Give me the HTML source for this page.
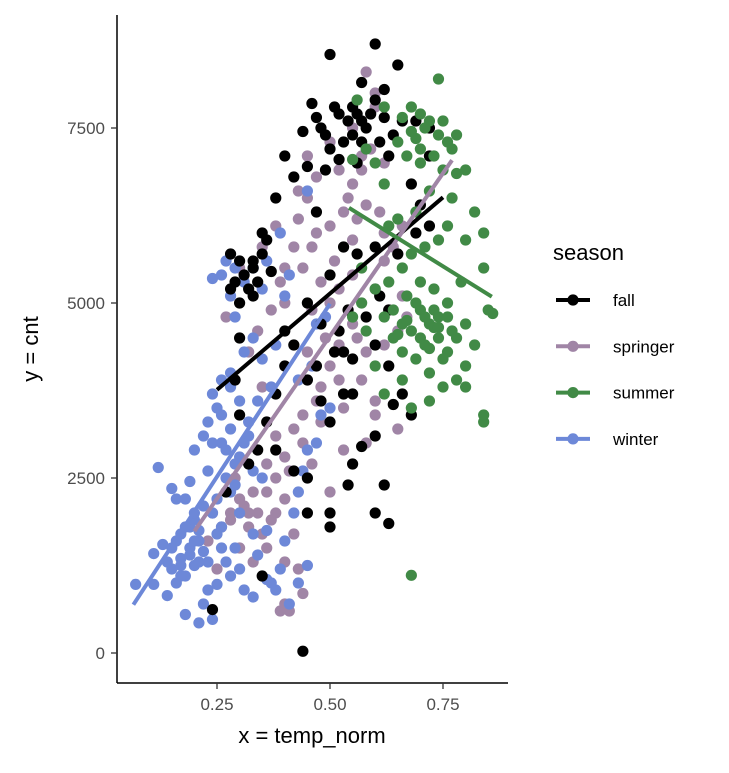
<!DOCTYPE html>
<html><head><meta charset="utf-8"><style>
body{margin:0;background:#fff}
svg text{font-family:"Liberation Sans",sans-serif}
</style></head><body>
<svg id="c" width="729" height="768" xmlns="http://www.w3.org/2000/svg"></svg>
<script>
const seasons=["springer","winter","fall","summer"];
const colors={fall:"#000000",springer:"#a085a6",summer:"#418a46",winter:"#6d88d8"};
const xTicks=[0.25,0.5,0.75];
const yTicks=[0,2500,5000,7500];
const springX=[0.58,0.6,0.55,0.57,0.59,0.62,0.5,0.52,0.47,0.45,0.5,0.53,0.55,0.56,0.58,0.62,0.64,0.66,0.43,0.42,0.44,0.46,0.48,0.4,0.4,0.46,0.5,0.52,0.55,0.6,0.63,0.66,0.56,0.58,0.62,0.65,0.52,0.5,0.48,0.53,0.57,0.6,0.65,0.6,0.58,0.53,0.48,0.46,0.44,0.42,0.4,0.38,0.36,0.34,0.32,0.3,0.28,0.26,0.24,0.23,0.25,0.3,0.33,0.36,0.38,0.4,0.42,0.4,0.43,0.44,0.41,0.39,0.4,0.27,0.3,0.32,0.35,0.38,0.45,0.55,0.5,0.35,0.38,0.6,0.45,0.62,0.67,0.29,0.31,0.33,0.37,0.41,0.47,0.52,0.36,0.34,0.37,0.39,0.43,0.47,0.51,0.54,0.57,0.49,0.44,0.32,0.28,0.35,0.55,0.61];
const springY=[8300,8000,7500,7100,7200,7000,7300,6900,6800,6500,6100,6300,6700,6200,6400,6000,5800,6100,6200,5800,5500,5800,5300,5000,5500,4900,5000,5200,5400,5200,4900,5100,4500,4300,4400,4600,4400,4100,3800,3500,3900,3600,3200,3400,3000,2900,3300,2700,3000,3200,2800,2500,2300,2000,1800,2200,2000,1800,2000,1600,1200,1500,1300,1500,2000,2200,1700,1300,1200,850,600,600,700,4800,5500,4300,3800,3100,4300,5900,2300,5800,6100,7800,7100,5600,4800,2500,2100,2300,1900,2600,3600,3900,2700,4600,4900,5300,6600,6000,5600,6500,6900,4500,3400,2000,1900,1700,4700,6300];
const winterX=[0.07,0.11,0.11,0.14,0.13,0.15,0.16,0.17,0.18,0.17,0.19,0.2,0.21,0.22,0.2,0.18,0.16,0.15,0.12,0.19,0.2,0.22,0.24,0.25,0.26,0.27,0.28,0.29,0.22,0.21,0.24,0.23,0.18,0.17,0.25,0.26,0.28,0.3,0.33,0.34,0.36,0.38,0.39,0.4,0.41,0.33,0.36,0.2,0.22,0.23,0.25,0.24,0.26,0.28,0.3,0.26,0.28,0.3,0.33,0.35,0.32,0.34,0.37,0.35,0.38,0.31,0.33,0.43,0.44,0.45,0.47,0.48,0.5,0.43,0.46,0.47,0.49,0.42,0.3,0.31,0.37,0.43,0.45,0.26,0.27,0.28,0.29,0.31,0.33,0.35,0.29,0.24,0.36,0.39,0.45,0.41,0.4,0.14,0.16,0.19,0.21,0.23,0.27,0.29,0.32,0.15,0.17,0.19,0.21,0.23,0.25,0.27,0.29,0.31,0.24,0.26,0.28,0.2,0.18];
const winterY=[980,980,1420,820,1550,1200,1000,1350,1100,1700,1500,1250,1600,1450,1900,2200,2200,2350,2650,2450,2000,2100,2000,1700,1500,1300,1100,1500,700,430,480,900,550,1100,980,1800,2300,2000,1700,1400,1050,900,1200,1600,700,800,1750,2900,3100,3300,3500,3700,3900,4000,3600,3000,3200,2800,2600,2500,3300,3600,3800,4200,4400,4300,4500,2300,2600,2900,3000,3400,3500,3900,4100,4700,4800,2000,1200,900,1000,1000,1250,5400,5600,5100,4800,5300,5500,5200,5500,5350,5600,6000,6600,5400,5100,1300,1600,1800,1300,2600,2900,2400,3100,1500,1250,1400,1750,1300,2200,2500,2700,3000,3000,3400,3800,1600,1800];
const fallX=[0.5,0.6,0.57,0.62,0.65,0.46,0.48,0.52,0.55,0.57,0.59,0.6,0.62,0.64,0.66,0.69,0.72,0.53,0.55,0.57,0.44,0.4,0.45,0.42,0.38,0.47,0.49,0.5,0.52,0.56,0.72,0.7,0.5,0.53,0.56,0.6,0.65,0.69,0.72,0.68,0.28,0.3,0.33,0.35,0.36,0.34,0.32,0.3,0.28,0.33,0.37,0.35,0.45,0.48,0.52,0.53,0.55,0.6,0.63,0.66,0.68,0.64,0.6,0.62,0.57,0.53,0.55,0.5,0.48,0.45,0.4,0.38,0.36,0.34,0.32,0.38,0.42,0.45,0.5,0.54,0.6,0.63,0.4,0.42,0.47,0.27,0.35,0.24,0.44,0.55,0.45,0.5,0.3,0.29,0.3,0.63,0.61,0.58,0.54,0.51,0.54,0.56,0.58,0.51,0.49,0.47,0.61,0.63,0.31,0.33,0.29];
const fallY=[8550,8700,8150,8050,8400,7850,7500,7700,7800,7600,7700,7900,7650,7400,7600,7600,7500,7300,7400,7300,7450,7100,6950,6800,6500,6300,6900,7200,7050,7000,7100,6400,5400,5800,5700,5800,5700,6000,6100,6700,5700,5600,5500,5700,5900,5300,5200,5000,5200,5100,5450,6000,5000,4700,4600,4300,4200,4400,4100,3700,3400,3550,3100,2400,2950,3700,3700,3300,3600,3900,4100,3700,3300,2900,2700,2900,2600,2000,1800,2400,2000,1850,4600,4400,4100,2300,1100,620,25,2700,2500,2000,4500,3900,3400,4900,5100,4800,4900,4300,7600,7700,7500,7800,7400,7650,7300,7100,5400,5600,5300];
const summerX=[0.74,0.56,0.62,0.68,0.7,0.72,0.74,0.76,0.78,0.65,0.67,0.7,0.73,0.75,0.78,0.8,0.6,0.62,0.55,0.58,0.72,0.77,0.82,0.84,0.84,0.8,0.76,0.74,0.71,0.68,0.66,0.63,0.6,0.57,0.55,0.58,0.62,0.64,0.66,0.68,0.7,0.72,0.74,0.76,0.78,0.8,0.82,0.86,0.8,0.78,0.75,0.72,0.69,0.66,0.62,0.6,0.64,0.67,0.7,0.73,0.76,0.65,0.69,0.8,0.84,0.84,0.72,0.68,0.74,0.79,0.85,0.68,0.63,0.57,0.71,0.73,0.77,0.69,0.66,0.75,0.7,0.72,0.74,0.67,0.65,0.71,0.73,0.76,0.69,0.71,0.75,0.77,0.7,0.68,0.66];
const summerY=[8200,7900,7800,7800,7700,7600,7400,7300,7400,7300,7100,7200,7100,6900,6850,6900,7000,6700,7050,7200,6600,6500,6300,6000,5500,5900,6100,5900,5800,5700,5500,5300,5200,5000,4800,4600,4800,4500,4300,4600,4900,4700,4500,4300,4500,4700,4400,4850,4100,3900,3800,4000,4200,3900,3700,4100,4900,5100,5300,5200,5000,6200,6300,3800,3300,3400,3600,3500,4800,5300,4900,1110,6100,5500,4400,4650,4600,5000,4700,4200,4500,4350,4650,4750,4550,4800,4900,4800,7350,7500,7600,7200,7000,7450,7650];
const fitX0={fall:0.25,springer:0.2,summer:0.542,winter:0.065};
const fitX1={fall:0.75,springer:0.77,summer:0.858,winter:0.5};
const fitY0={fall:3760,springer:1740,summer:6360,winter:690};
const fitY1={fall:6510,springer:7040,summer:5090,winter:4990};

const NS="http://www.w3.org/2000/svg";
const svg=document.getElementById("c");
const sx=v=>104+v*452;
const sy=v=>653-v*175/2500;
function mk(tag,attrs,parent){const e=document.createElementNS(NS,tag);for(const k in attrs)e.setAttribute(k,attrs[k]);(parent||svg).appendChild(e);return e;}
const data={springer:[springX,springY],winter:[winterX,winterY],fall:[fallX,fallY],summer:[summerX,summerY]};
const gp=mk("g",{});


seasons.forEach(s=>{const [X,Y]=data[s];for(let i=0;i<X.length;i++){const c=mk("circle",{cx:sx(X[i]),cy:sy(Y[i]),r:5.6,fill:colors[s]},gp);

}});
["fall","springer","summer","winter"].forEach(s=>{const l=mk("line",{x1:sx(fitX0[s]),y1:sy(fitY0[s]),x2:sx(fitX1[s]),y2:sy(fitY1[s]),stroke:colors[s],"stroke-width":4});

});
const ax=mk("line",{x1:117,y1:15,x2:117,y2:683,stroke:"#000","stroke-width":1.5});


const bx=mk("line",{x1:117,y1:683,x2:508,y2:683,stroke:"#000","stroke-width":1.5});


xTicks.forEach(t=>{mk("line",{x1:sx(t),y1:683,x2:sx(t),y2:689,stroke:"#333","stroke-width":1.3});
const tx=mk("text",{x:sx(t),y:710,"text-anchor":"middle","font-size":17,fill:"#4d4d4d"});tx.textContent=t.toFixed(2);

});
yTicks.forEach(t=>{mk("line",{x1:111,y1:sy(t),x2:117,y2:sy(t),stroke:"#333","stroke-width":1.3});
const tx=mk("text",{x:105,y:sy(t)+6,"text-anchor":"end","font-size":17,fill:"#4d4d4d"});tx.textContent=t;

});
const xt=mk("text",{x:312,y:743,"text-anchor":"middle","font-size":22});xt.textContent="x = temp_norm";


const yt=mk("text",{x:0,y:0,"text-anchor":"middle","font-size":22,transform:"translate(38,349) rotate(-90)"});yt.textContent="y = cnt";


const lt=mk("text",{x:553,y:260,"font-size":22});lt.textContent="season";


["fall","springer","summer","winter"].forEach((s,i)=>{const y=300+i*46.3;const g=mk("g",{});


mk("line",{x1:556,y1:y,x2:590,y2:y,stroke:colors[s],"stroke-width":4},g);
mk("circle",{cx:573,cy:y,r:5.6,fill:colors[s]},g);
const t=mk("text",{x:613,y:y+6,"font-size":17,fill:"#000"},g);t.textContent=s;});
</script>
</body></html>
